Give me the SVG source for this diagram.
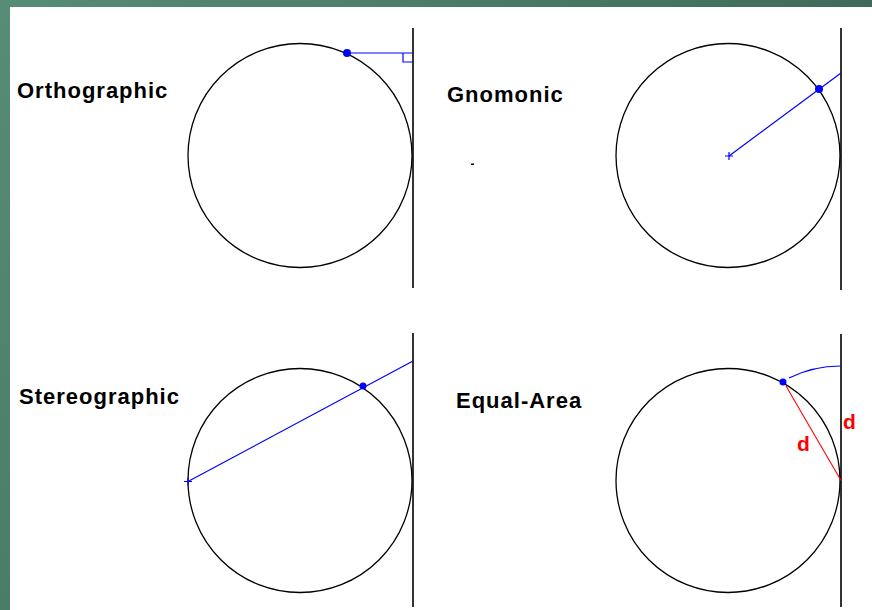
<svg xmlns="http://www.w3.org/2000/svg" width="872" height="610" viewBox="0 0 872 610">
  <defs>
    <linearGradient id="bg" x1="0" y1="0" x2="1" y2="0">
      <stop offset="0" stop-color="#578c76"/>
      <stop offset="1" stop-color="#3f6c5a"/>
    </linearGradient>
    <linearGradient id="bgv" x1="0" y1="0" x2="0" y2="1">
      <stop offset="0" stop-color="#578c76"/>
      <stop offset="1" stop-color="#4a7d68"/>
    </linearGradient>
  </defs>
  <style>
    .globe { fill: none; stroke: #000; stroke-width: 1.3; }
    .plane { stroke: #000; stroke-width: 1.6; }
    .proj { fill: none; stroke: #0000ff; stroke-width: 1.2; }
    .pt { fill: #0000ff; }
    .dist { fill: none; stroke: #ff0000; stroke-width: 1.1; }
    .title { font-family: "Liberation Sans", Arial, sans-serif; font-weight: bold; font-size: 22px; letter-spacing: 1px; fill: #000; }
    .dlabel { font-family: "Liberation Sans", Arial, sans-serif; font-weight: bold; font-size: 21px; fill: #ff0000; }
  </style>
  <rect x="0" y="0" width="872" height="610" fill="url(#bgv)"/>
  <rect x="0" y="0" width="872" height="8" fill="url(#bg)"/>
  <rect x="10" y="7" width="862" height="603" fill="#ffffff"/>

  <g id="orthographic">
    <text class="title" x="17" y="98">Orthographic</text>
    <circle class="globe" cx="300" cy="155.5" r="112"/>
    <line class="plane" x1="413" y1="28" x2="413" y2="288"/>
    <g id="ortho-proj">
      <line class="proj" x1="347" y1="53" x2="413" y2="53"/>
      <polyline class="proj" points="403,53 403,62 413,62"/>
      <circle class="pt" cx="347" cy="53" r="4"/>
    </g>
  </g>

  <g id="gnomonic">
    <text class="title" x="447" y="102">Gnomonic</text>
    <rect x="471" y="163.5" width="3" height="1.5" fill="#000"/>
    <circle class="globe" cx="728" cy="155.5" r="112"/>
    <line class="plane" x1="841" y1="28" x2="841" y2="290"/>
    <g id="gnomo-proj">
      <line class="proj" x1="729" y1="156" x2="841" y2="73"/>
      <path class="proj" d="M725 156 H733 M729 152 V160"/>
      <circle class="pt" cx="819" cy="89" r="4"/>
    </g>
  </g>

  <g id="stereographic">
    <text class="title" x="19" y="404">Stereographic</text>
    <circle class="globe" cx="300" cy="480.5" r="112"/>
    <line class="plane" x1="413" y1="333" x2="413" y2="607"/>
    <g id="stereo-proj">
      <line class="proj" x1="188" y1="481.5" x2="413" y2="361"/>
      <path class="proj" d="M184 481.5 H192 M188 477.5 V485.5"/>
      <circle class="pt" cx="363" cy="386" r="3.5"/>
    </g>
  </g>

  <g id="equal-area">
    <text class="title" x="456" y="408">Equal-Area</text>
    <circle class="globe" cx="728" cy="480.5" r="112"/>
    <line class="plane" x1="841" y1="334" x2="841" y2="607"/>
    <g id="equal-proj">
      <path class="proj" d="M789 378 A 115.5 115.5 0 0 1 841 366"/>
      <line class="dist" x1="786" y1="386" x2="841" y2="480.5"/>
      <circle class="pt" cx="783" cy="382" r="3.5"/>
      <text class="dlabel" x="843" y="429">d</text>
      <text class="dlabel" x="797" y="451">d</text>
    </g>
  </g>
</svg>
